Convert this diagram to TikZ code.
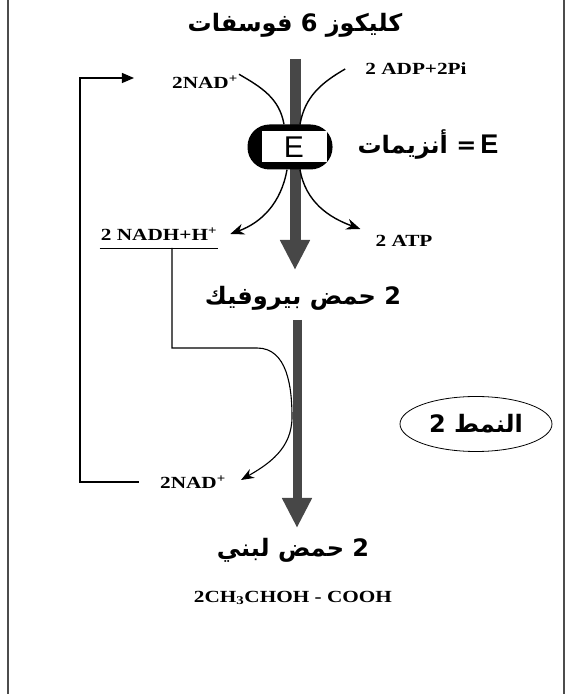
\documentclass[tikz,border=0pt]{standalone}
\usepackage{fontspec}
\usetikzlibrary{arrows.meta,shapes.geometric}
\newfontfamily\arabicfont[Script=Arabic]{DejaVu Sans}
\newfontfamily\chemfont[FakeStretch=1.25]{Liberation Serif}
\newfontfamily\efont{Liberation Sans}
\TeXXeTstate=1

\begin{document}
\begin{tikzpicture}[x=1pt,y=1pt,
  arab/.style={font=\arabicfont\bfseries\fontsize{24}{26}\selectfont},
  chem/.style={font=\chemfont\bfseries\fontsize{17}{19}\selectfont, inner sep=1pt},
  mainflow/.style={line width=11pt, black!72, -{Triangle[width=28pt,length=30pt]}},
  sidecurve/.style={line width=1.4pt, black},
  sidetip/.style={sidecurve, -{Stealth[length=14pt,width=11pt]}},
  wire/.style={line width=1.1pt, black}]
\useasboundingbox (0,0) rectangle (568,694);
% frame
\draw[line width=2pt, black!70] (8,0) -- (8,694);
\draw[line width=2pt, black!70] (564,0) -- (564,694);
% labels
\node[arab] (glc) at (295,669) {\beginR كليكوز 6 فوسفات\endR};
\node[chem] (nadin) at (205,612) {2NAD\textsuperscript{+}};
\node[chem] (adp) at (416,625) {2 ADP+2Pi};
\node[arab] (enzname) at (428,549) {\beginR{\efont\fontsize{27}{29}\selectfont E}\,= أنزيمات\endR};
\node[chem] (nadh) at (159,460) {2 NADH+H\textsuperscript{+}};
\node[chem] (atp) at (404,453) {2 ATP};
\node[arab] (pyr) at (303,396) {\beginR 2 حمض بيروفيك\endR};
\node[arab, draw, ellipse, line width=0.8pt, minimum width=152pt, minimum height=55pt] (mode) at (476,270) {\beginR النمط 2\endR};
\node[chem] (nadout) at (193,212) {2NAD\textsuperscript{+}};
\node[arab] (lac) at (293,144) {\beginR 2 حمض لبني\endR};
\node[chem] (form) at (293,96) {2CH\textsubscript{3}CHOH - COOH};
% main flow
\coordinate (flow1a) at (295,635);
\coordinate (flow1b) at (295,424);
\coordinate (flow2a) at (297,374);
\coordinate (flow2b) at (297,166);
\draw[mainflow] (flow1a) -- (flow1b);
\draw[mainflow, line width=9pt] (flow2a) -- (flow2b);
% enzyme
\node[fill=black, rounded corners=22pt, minimum width=85pt, minimum height=45pt] (enz) at (290,547) {};
\node[fill=white, inner sep=0pt, minimum width=65pt, minimum height=31pt,
      font=\efont\fontsize{30}{32}\selectfont] (E) at (294,547) {E};
% coupled reactions
\draw[sidecurve] (nadin.north east) to[out=-30,in=100] ([xshift=-6pt]enz.north);
\draw[sidecurve] ([xshift=-19pt]adp.west) to[out=-150,in=80] ([xshift=10pt]enz.north);
\draw[sidetip] ([xshift=-3pt]enz.south) to[out=-100,in=20] ([xshift=12pt]nadh.east);
\draw[sidetip] ([xshift=10pt]enz.south) to[out=-80,in=160] ([shift={(-14pt,12pt)}]atp.west);
% NADH recycling
\draw[wire] ([yshift=-8pt]nadh.base west) -- ([yshift=-8pt]nadh.base east);
\coordinate (drop) at (172,446);
\coordinate (turn) at (257,346);
\draw[wire, -{Stealth[length=13pt,width=10pt]}] (drop) |- (turn)
   to[out=0,in=90] (292,277) to[out=-90,in=30] ([shift={(14pt,2pt)}]nadout.east);
\coordinate (loopcorner) at (80,616);
\draw[wire, -{Triangle[length=12pt,width=10pt]}] ([xshift=-20pt]nadout.west) -| (loopcorner)
   -- ([shift={(-37pt,4pt)}]nadin.west);
\end{tikzpicture}
\end{document}
